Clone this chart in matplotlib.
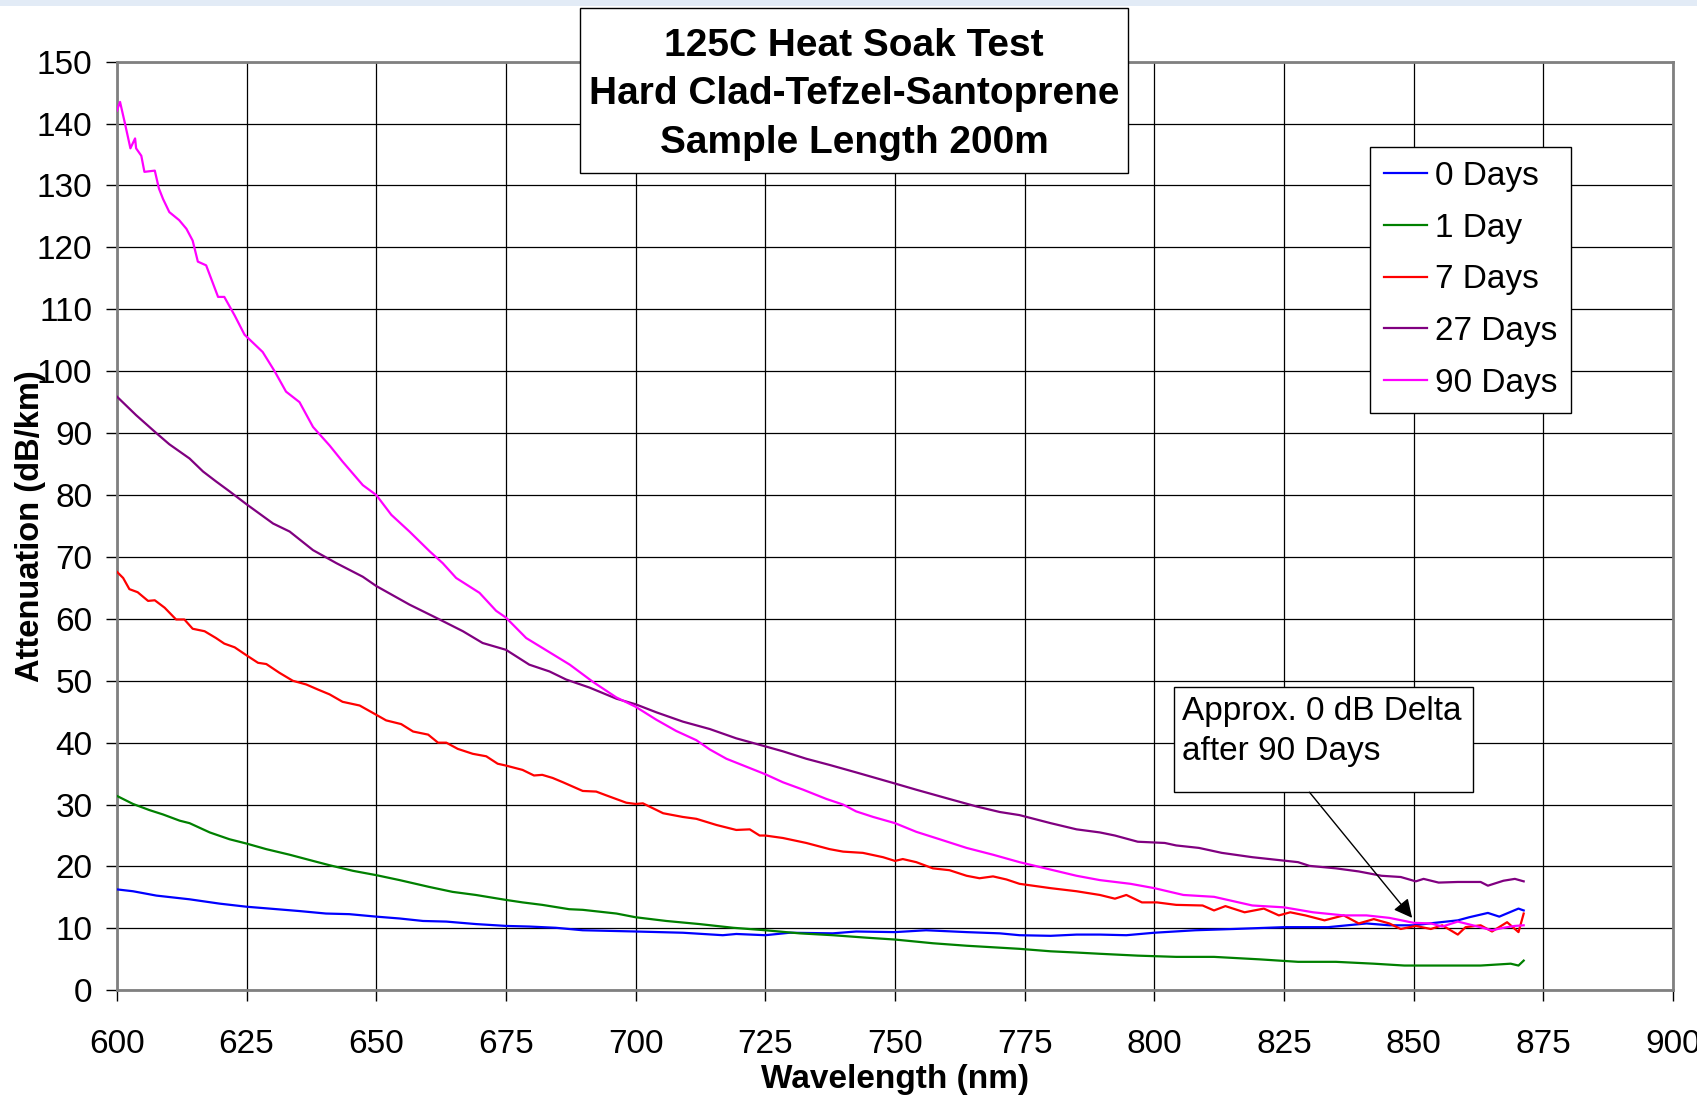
import matplotlib
matplotlib.use('Agg')
import matplotlib.pyplot as plt
from matplotlib.patches import Rectangle

plt.rcParams['font.family'] = ['Liberation Sans', 'DejaVu Sans']

# values (wavelength nm, attenuation dB/km)
wl_0 = [600.0, 603.1, 607.6, 614.0, 619.8, 625.0, 629.4, 635.2, 640.3, 644.8, 650.0, 654.5, 659.0,
        663.5, 669.2, 675.0, 679.5, 684.6, 689.8, 700.0, 709.1, 716.8, 719.4, 725.0, 729.7, 738.0,
        742.5, 750.0, 756.0, 763.8, 770.2, 774.0, 780.0, 785.0, 789.5, 794.6, 800.0, 807.9, 815.2,
        825.0, 833.5, 840.9, 845.3, 850.0, 854.1, 858.5, 860.7, 864.3, 866.5, 870.2, 871.2]
att_0 = [16.3, 16.0, 15.3, 14.7, 14.0, 13.5, 13.2, 12.8, 12.4, 12.3, 11.9, 11.6, 11.2,
         11.1, 10.7, 10.4, 10.3, 10.1, 9.7, 9.5, 9.3, 8.9, 9.1, 8.9, 9.3, 9.2,
         9.5, 9.4, 9.7, 9.4, 9.2, 8.9, 8.8, 9.0, 9.0, 8.9, 9.3, 9.7, 9.9,
         10.2, 10.2, 10.8, 10.5, 10.5, 10.9, 11.3, 11.8, 12.5, 11.9, 13.2, 12.9]

wl_1 = [600.0, 603.1, 606.3, 608.9, 612.1, 614.0, 617.9, 621.7, 625.0, 628.8, 633.3, 637.8, 641.0,
        645.5, 650.0, 654.5, 660.2, 664.7, 669.2, 675.0, 678.2, 682.0, 687.2, 689.8, 696.3, 700.0,
        705.9, 712.3, 718.8, 725.0, 731.6, 738.0, 744.5, 750.0, 757.3, 763.8, 774.0, 780.0, 785.0,
        789.5, 796.8, 804.2, 811.5, 820.3, 827.7, 835.0, 842.3, 848.2, 855.5, 862.9, 868.7, 870.2, 871.2]
att_1 = [31.4, 30.1, 29.1, 28.4, 27.4, 27.0, 25.5, 24.4, 23.7, 22.8, 21.9, 20.9, 20.2,
         19.3, 18.6, 17.8, 16.7, 15.9, 15.4, 14.6, 14.2, 13.8, 13.1, 13.0, 12.4, 11.8,
         11.2, 10.7, 10.1, 9.7, 9.2, 8.9, 8.5, 8.2, 7.6, 7.2, 6.7, 6.3, 6.1,
         5.9, 5.6, 5.4, 5.4, 5.0, 4.6, 4.6, 4.3, 4.0, 4.0, 4.0, 4.3, 4.0, 4.8]

wl_7 = [600.0, 601.2, 602.4, 604.0, 606.0, 607.3, 609.2, 611.4, 613.0, 614.6, 616.9, 619.1, 620.7,
        622.7, 625.0, 627.2, 628.8, 631.3, 633.9, 636.5, 638.7, 641.0, 643.5, 646.8, 650.0, 651.9,
        654.8, 657.1, 660.0, 661.9, 663.5, 665.7, 668.6, 671.2, 673.4, 675.0, 678.2, 680.4, 682.0,
        684.0, 686.0, 689.8, 692.4, 694.3, 698.2, 700.0, 701.4, 705.3, 709.1, 711.7, 715.6, 719.4,
        722.0, 723.9, 725.0, 728.4, 732.9, 737.4, 740.0, 743.8, 747.7, 750.0, 751.5, 754.1, 757.3,
        760.5, 763.8, 766.3, 768.9, 771.5, 774.0, 780.0, 785.0, 789.5, 792.4, 794.6, 797.6, 800.5,
        804.2, 809.3, 811.5, 813.7, 817.4, 821.1, 824.0, 826.2, 829.1, 832.8, 836.5, 839.4, 842.3,
        845.3, 847.5, 850.4, 853.3, 855.5, 858.5, 860.0, 862.9, 865.1, 868.0, 870.2, 871.2]
att_7 = [67.6, 66.6, 64.8, 64.3, 62.9, 63.0, 61.8, 59.9, 59.9, 58.4, 58.0, 56.9, 56.0,
         55.4, 54.1, 52.9, 52.7, 51.3, 50.0, 49.4, 48.6, 47.8, 46.6, 46.0, 44.5, 43.6,
         43.0, 41.8, 41.3, 40.0, 40.0, 39.0, 38.2, 37.8, 36.6, 36.3, 35.6, 34.7, 34.8,
         34.3, 33.6, 32.2, 32.1, 31.5, 30.3, 30.1, 30.2, 28.6, 28.0, 27.7, 26.7, 25.9,
         26.0, 25.0, 25.0, 24.6, 23.8, 22.8, 22.4, 22.2, 21.5, 20.9, 21.2, 20.7, 19.7,
         19.4, 18.5, 18.1, 18.4, 17.9, 17.2, 16.5, 16.0, 15.4, 14.8, 15.4, 14.2, 14.2,
         13.8, 13.7, 12.9, 13.6, 12.6, 13.2, 12.1, 12.6, 12.1, 11.3, 12.1, 10.8, 11.5,
         10.8, 9.9, 10.4, 9.9, 10.5, 9.0, 10.2, 10.5, 9.5, 11.0, 9.4, 12.4]

wl_27 = [600.0, 603.7, 607.6, 610.1, 614.0, 616.6, 619.1, 621.7, 625.0, 630.1, 633.3, 637.8, 642.3,
         647.4, 650.0, 656.4, 662.2, 666.7, 670.5, 675.0, 679.5, 683.4, 686.6, 691.1, 696.3, 700.0,
         704.0, 709.1, 714.3, 719.4, 725.0, 728.4, 732.9, 737.4, 742.5, 750.0, 754.1, 760.5, 765.7,
         770.2, 774.0, 780.0, 785.0, 789.5, 792.4, 796.8, 802.0, 804.2, 808.6, 813.0, 818.9, 823.3,
         827.7, 829.9, 835.0, 839.4, 843.8, 847.5, 850.4, 851.9, 854.8, 858.5, 862.9, 864.3, 867.3,
         869.5, 871.2]
att_27 = [95.9, 92.9, 90.0, 88.2, 85.9, 83.8, 82.2, 80.6, 78.5, 75.4, 74.1, 71.1, 69.0,
          66.8, 65.3, 62.3, 59.9, 58.0, 56.1, 55.0, 52.6, 51.5, 50.2, 48.9, 47.1, 46.2,
          44.9, 43.4, 42.2, 40.7, 39.4, 38.6, 37.4, 36.4, 35.2, 33.4, 32.4, 30.9, 29.7,
          28.8, 28.3, 27.0, 26.0, 25.5, 25.0, 24.0, 23.8, 23.4, 23.0, 22.2, 21.5, 21.1,
          20.7, 20.1, 19.7, 19.2, 18.5, 18.3, 17.6, 18.0, 17.4, 17.5, 17.5, 16.9, 17.7,
          18.0, 17.6]

wl_90 = [600.0, 600.6, 601.5, 602.6, 603.5, 603.7, 604.7, 605.3, 607.3, 608.1, 608.9, 610.1, 612.0,
         613.4, 614.6, 615.6, 617.2, 619.5, 620.7, 622.7, 624.6, 628.1, 630.4, 632.6, 635.2, 637.8,
         641.0, 643.5, 647.4, 650.0, 652.9, 656.4, 660.3, 662.8, 665.4, 669.9, 673.1, 675.0, 678.9,
         683.4, 687.3, 691.8, 696.3, 700.0, 704.0, 707.8, 711.7, 714.3, 717.5, 722.0, 725.0, 728.4,
         732.3, 736.8, 740.0, 742.5, 745.8, 750.0, 754.1, 758.6, 763.8, 768.9, 774.0, 780.0, 785.0,
         789.5, 795.4, 800.0, 805.6, 811.5, 818.9, 825.0, 830.6, 836.5, 840.9, 845.3, 850.0, 853.3,
         855.5, 858.5, 861.4, 865.1, 867.3, 869.5, 871.2]
att_90 = [142.1, 143.5, 140.2, 136.0, 137.6, 136.0, 134.8, 132.2, 132.4, 129.5, 127.8, 125.7, 124.4,
          123.0, 121.1, 117.7, 117.1, 112.0, 112.0, 109.0, 105.9, 103.1, 100.0, 96.7, 95.0, 91.0,
          88.0, 85.4, 81.6, 80.0, 76.8, 74.1, 70.9, 69.0, 66.6, 64.2, 61.3, 60.2, 56.9,
          54.6, 52.6, 49.8, 47.3, 45.8, 43.7, 41.9, 40.4, 38.9, 37.4, 35.9, 34.9, 33.6,
          32.4, 30.9, 30.0, 28.9, 28.0, 27.0, 25.6, 24.4, 23.0, 21.9, 20.7, 19.5, 18.5,
          17.8, 17.2, 16.5, 15.4, 15.1, 13.7, 13.4, 12.6, 12.1, 12.1, 11.7, 10.9, 10.8,
          10.3, 11.1, 10.5, 9.7, 10.1, 10.4, 10.5]

series_labels = ['0 Days', '1 Day', '7 Days', '27 Days', '90 Days']
series_colors = ['#0000FF', '#008000', '#FF0000', '#800080', '#FF00FF']

x_ticks = list(range(600, 901, 25))
y_ticks = list(range(0, 151, 10))

title_text = '125C Heat Soak Test\nHard Clad-Tefzel-Santoprene\nSample Length 200m'
note_text = 'Approx. 0 dB Delta\nafter 90 Days'

fig = plt.figure(figsize=(16.97, 10.99), dpi=100)
ax = fig.add_axes([0.0689, 0.0989, 0.9170, 0.8450])

# thin light-blue band along the very top of the slide
fig.patches.append(Rectangle((0, 0.9945), 1, 0.0055, transform=fig.transFigure,
                             facecolor='#e2ebf6', edgecolor='none', zorder=0))

all_wl = [wl_0, wl_1, wl_7, wl_27, wl_90]
all_att = [att_0, att_1, att_7, att_27, att_90]
for wl, att, lab, col in zip(all_wl, all_att, series_labels, series_colors):
    ax.plot(wl, att, color=col, lw=1.6, label=lab, zorder=3)

ax.set_xlim(600, 900)
ax.set_ylim(0, 150)
ax.set_xticks(x_ticks)
ax.set_yticks(y_ticks)
ax.tick_params(axis='both', labelsize=24, direction='out', length=7.7, width=1, color='black')
ax.tick_params(axis='x', pad=20)
ax.tick_params(axis='y', pad=10)
ax.grid(True, color='black', lw=0.9)
ax.set_axisbelow(True)
for sp in ax.spines.values():
    sp.set_color('#808080')
    sp.set_linewidth(2)

ax.set_xlabel('Wavelength (nm)', fontsize=24, fontweight='bold', labelpad=3)
ax.set_ylabel('Attenuation (dB/km)', fontsize=23.5, fontweight='bold')
ax.yaxis.set_label_coords(-0.0455, 0.5)

leg = ax.legend(loc='upper left', bbox_to_anchor=(0.805, 0.908), fontsize=24, frameon=True,
                fancybox=False, edgecolor='black', framealpha=1, handlelength=1.3,
                handletextpad=0.23, labelspacing=0.62, borderpad=0.42, borderaxespad=0)
leg.get_frame().set_linewidth(1)

# title box sitting over the top of the plot
fig.patches.append(Rectangle((0.3418, 0.8426), 0.3229, 0.1505, transform=fig.transFigure,
                             facecolor='white', edgecolor='black', lw=1, zorder=5))
fig.text(0.5033, 0.9142, title_text, ha='center', va='center', fontsize=28,
         fontweight='bold', linespacing=1.45, zorder=6)

# callout box with arrow
ax.add_patch(Rectangle((803.8, 32.0), 57.6, 17.0, facecolor='white', edgecolor='black',
                       lw=1, zorder=5))
ax.text(805.3, 47.5, note_text, ha='left', va='top', fontsize=24, linespacing=1.37, zorder=6)
ax.annotate('', xy=(849.7, 11.7), xytext=(829.9, 32.0),
            arrowprops=dict(arrowstyle='-|>', color='black', lw=1, mutation_scale=28,
                            shrinkA=0, shrinkB=0), zorder=6)

fig.savefig('out.png', dpi=100, facecolor='white')
